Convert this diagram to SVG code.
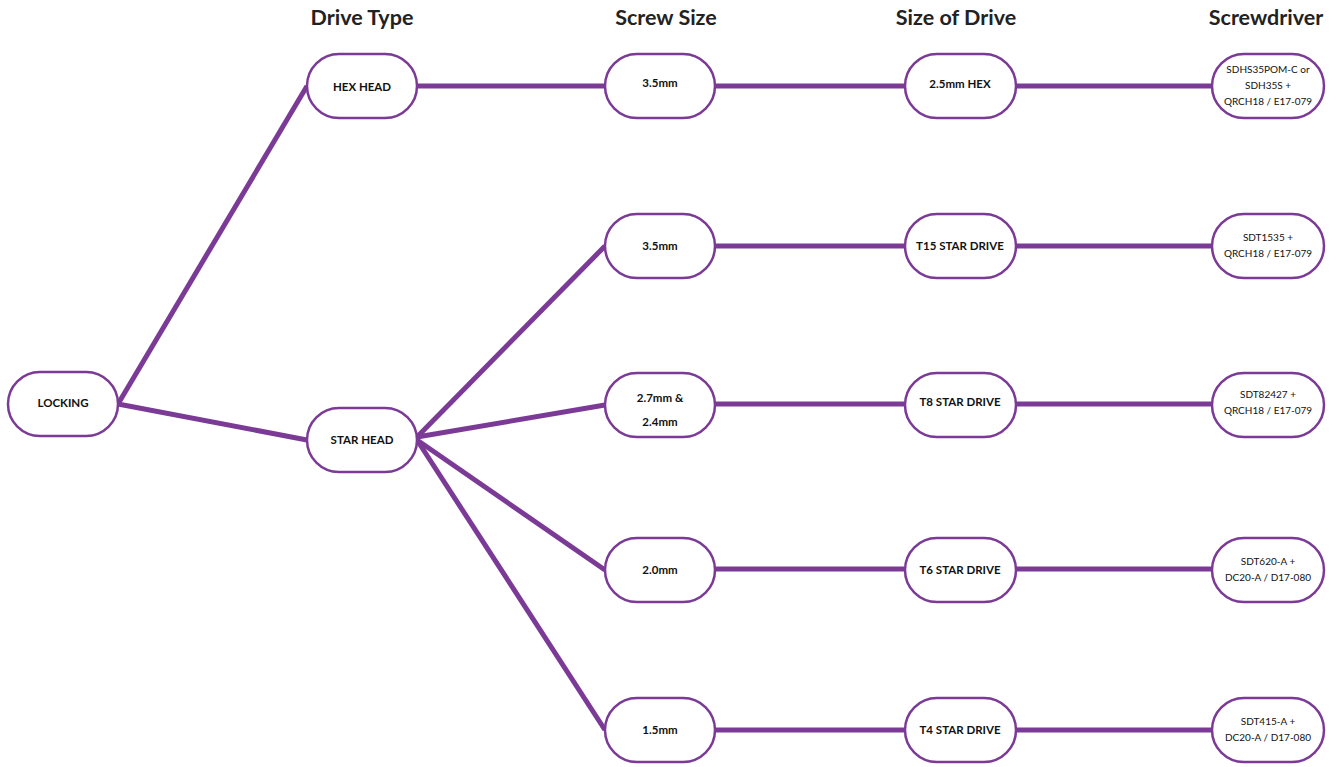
<svg xmlns="http://www.w3.org/2000/svg" width="1336" height="767" viewBox="0 0 1336 767">
<style>
.node{fill:#fff;stroke:#7B3A96;stroke-width:2.5}
.conn{stroke:#7B3A96;stroke-width:5;fill:none;stroke-linecap:butt}
.hdr{font-family:Lato,"Open Sans",sans-serif;font-weight:bold;font-size:21.5px;fill:#222;text-anchor:middle}
.lb{font-family:Lato,"Open Sans",sans-serif;font-weight:bold;font-size:11.5px;fill:#111;text-anchor:middle}
.lr{font-family:Lato,"Open Sans",sans-serif;font-size:10px;fill:#111;text-anchor:middle}
</style>
<rect width="1336" height="767" fill="#fff"/>
<g id="headers">
<text class="hdr" x="362" y="25">Drive Type</text>
<text class="hdr" x="666" y="25">Screw Size</text>
<text class="hdr" x="956" y="25">Size of Drive</text>
<text class="hdr" x="1266" y="25">Screwdriver</text>
</g>
<g id="connectors">
<line class="conn" x1="118" y1="404" x2="307" y2="86"/>
<line class="conn" x1="118" y1="404" x2="307" y2="440"/>
<line class="conn" x1="417" y1="437" x2="605" y2="246"/>
<line class="conn" x1="417" y1="437" x2="605" y2="405"/>
<line class="conn" x1="417" y1="440" x2="605" y2="570"/>
<line class="conn" x1="417" y1="440" x2="605" y2="730"/>
<line class="conn" x1="417" y1="86" x2="605" y2="86"/>
<line class="conn" x1="715" y1="86" x2="904" y2="86"/>
<line class="conn" x1="1016" y1="86" x2="1212" y2="86"/>
<line class="conn" x1="715" y1="246" x2="904" y2="246"/>
<line class="conn" x1="1016" y1="246" x2="1212" y2="246"/>
<line class="conn" x1="715" y1="404" x2="904" y2="404"/>
<line class="conn" x1="1016" y1="404" x2="1212" y2="404"/>
<line class="conn" x1="715" y1="569" x2="904" y2="569"/>
<line class="conn" x1="1016" y1="569" x2="1212" y2="569"/>
<line class="conn" x1="715" y1="730" x2="904" y2="730"/>
<line class="conn" x1="1016" y1="730" x2="1212" y2="730"/>
</g>
<g id="locking"><rect class="node" x="8" y="372" width="110" height="64" rx="32"/><text class="lb" x="63" y="407">LOCKING</text></g>
<g id="hex-head"><rect class="node" x="307" y="54" width="110" height="64" rx="32"/><text class="lb" x="362" y="91">HEX HEAD</text></g>
<g id="star-head"><rect class="node" x="307" y="408" width="110" height="64" rx="32"/><text class="lb" x="362" y="444">STAR HEAD</text></g>
<g id="ss-hex"><rect class="node" x="605" y="54" width="110" height="64" rx="32"/><text class="lb" x="660" y="87">3.5mm</text></g>
<g id="ss-35"><rect class="node" x="605" y="214" width="110" height="64" rx="32"/><text class="lb" x="660" y="250">3.5mm</text></g>
<g id="ss-27"><rect class="node" x="605" y="373" width="110" height="64" rx="32"/><text class="lb" x="660" y="402">2.7mm &amp;</text><text class="lb" x="660" y="426">2.4mm</text></g>
<g id="ss-20"><rect class="node" x="605" y="538" width="110" height="64" rx="32"/><text class="lb" x="660" y="574">2.0mm</text></g>
<g id="ss-15"><rect class="node" x="605" y="698" width="110" height="64" rx="32"/><text class="lb" x="660" y="734">1.5mm</text></g>
<g id="sd-hex"><rect class="node" x="905" y="54" width="111" height="64" rx="32"/><text class="lb" x="960" y="88">2.5mm HEX</text></g>
<g id="sd-t15"><rect class="node" x="905" y="214" width="111" height="64" rx="32"/><text class="lb" x="960" y="250">T15 STAR DRIVE</text></g>
<g id="sd-t8"><rect class="node" x="905" y="373" width="111" height="64" rx="32"/><text class="lb" x="960" y="406">T8 STAR DRIVE</text></g>
<g id="sd-t6"><rect class="node" x="905" y="538" width="111" height="64" rx="32"/><text class="lb" x="960" y="574">T6 STAR DRIVE</text></g>
<g id="sd-t4"><rect class="node" x="905" y="698" width="111" height="64" rx="32"/><text class="lb" x="960" y="734">T4 STAR DRIVE</text></g>
<g id="dr-hex"><rect class="node" x="1212" y="54" width="112" height="64" rx="32"/><text class="lr" x="1268" y="73">SDHS35POM-C or</text><text class="lr" x="1268" y="89">SDH35S +</text><text class="lr" x="1268" y="105">QRCH18 / E17-079</text></g>
<g id="dr-t15"><rect class="node" x="1212" y="214" width="112" height="64" rx="32"/><text class="lr" x="1268" y="241">SDT1535 +</text><text class="lr" x="1268" y="257">QRCH18 / E17-079</text></g>
<g id="dr-t8"><rect class="node" x="1212" y="373" width="112" height="64" rx="32"/><text class="lr" x="1268" y="398">SDT82427 +</text><text class="lr" x="1268" y="414">QRCH18 / E17-079</text></g>
<g id="dr-t6"><rect class="node" x="1212" y="538" width="112" height="64" rx="32"/><text class="lr" x="1268" y="565">SDT620-A +</text><text class="lr" x="1268" y="581">DC20-A / D17-080</text></g>
<g id="dr-t4"><rect class="node" x="1212" y="698" width="112" height="64" rx="32"/><text class="lr" x="1268" y="725">SDT415-A +</text><text class="lr" x="1268" y="741">DC20-A / D17-080</text></g>
</svg>
